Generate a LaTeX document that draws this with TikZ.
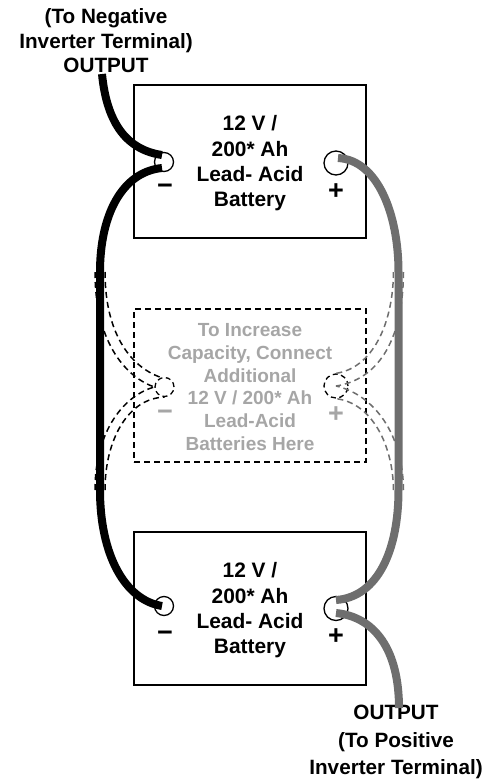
\documentclass[tikz,border=0pt]{standalone}
\usepackage{fontspec}
\setmainfont{Liberation Sans}
\definecolor{cablegray}{HTML}{6E6E6E}
\definecolor{textgray}{HTML}{A6A6A6}
\begin{document}
\begin{tikzpicture}[x=1pt, y=-1pt,
        battery/.style = {draw, line width=1.6pt, minimum width=232pt, minimum height=153pt, inner sep=0pt},
        spare/.style = {battery, dash pattern=on 6pt off 4pt},
        batterytext/.style = {inner sep=0pt, align=center, font=\bfseries\fontsize{20.9}{25.3}\selectfont},
        sparetext/.style = {inner sep=0pt, align=center, text=textgray, font=\bfseries\fontsize{19}{22.8}\selectfont},
        negpost/.style = {circle, draw, line width=1.3pt, minimum size=19pt, inner sep=0pt},
        pospost/.style = {negpost, minimum size=24pt},
        sign/.style = {inner sep=0pt, font=\bfseries\fontsize{27}{27}\selectfont},
        outlabel/.style = {inner sep=0pt, align=center, font=\bfseries\fontsize{20.7}{24.5}\selectfont},
        cable/.style = {line width=8pt},
        tap/.style = {dash pattern=on 6pt off 4pt, line width=1.5pt}]
    \useasboundingbox (0,0) rectangle (491,780);
    % batteries
    \node [battery] (top) at (250,161.5) {};
    \node [spare] (mid) at (250,385.5) {};
    \node [battery] (bot) at (250,608.5) {};
    \node [batterytext] (toptext) at (250,163.5) {12 V /\\200* Ah\\Lead- Acid\\Battery};
    \node [sparetext] (midtext) at (250,387) {To Increase\\Capacity, Connect\\Additional\\12 V / 200* Ah\\Lead-Acid\\Batteries Here};
    \node [batterytext] (bottext) at (250,610.5) {12 V /\\200* Ah\\Lead- Acid\\Battery};
    % posts
    \node [negpost] (topneg) at (164,162) {};
    \node [pospost] (toppos) at (336,163) {};
    \node [negpost, dash pattern=on 5pt off 3.5pt] (midneg) at (164.5,387) {};
    \node [pospost, dash pattern=on 5pt off 3.5pt] (midpos) at (336,386) {};
    \node [negpost] (botneg) at (164,606) {};
    \node [pospost] (botpos) at (336,608.5) {};
    % signs
    \node [sign] (topminus) at (165,189) {−};
    \node [sign] (topplus) at (336,192) {+};
    \node [sign, text=textgray] (midminus) at (165,415) {−};
    \node [sign, text=textgray] (midplus) at (336,415) {+};
    \node [sign] (botminus) at (165,636) {−};
    \node [sign] (botplus) at (336,637) {+};
    % outputs
    \node [outlabel] (outneg) at (106,41) {(To Negative\\Inverter Terminal)\\OUTPUT};
    \node [outlabel, font=\bfseries\fontsize{20.7}{27.5}\selectfont] (outpos) at (396,742) {OUTPUT\\(To Positive\\Inverter Terminal)};
    \coordinate (neghi) at (100,272);
    \coordinate (neglo) at (100,490);
    \coordinate (poshi) at (398.5,272);
    \coordinate (poslo) at (398.5,490);
    \coordinate (outnegend) at (102,74);
    \coordinate (outposend) at (399,708);
    \coordinate (topnegup) at (162,155);
    \coordinate (topneglo) at (162,168);
    \coordinate (botnegin) at (162,606);
    \coordinate (topposin) at (338,158);
    \coordinate (botposup) at (336,600);
    \coordinate (botposlo) at (336,613);
    % dashed taps
    \draw [tap] (neghi) ++(5,0) .. controls (105,330) and (128,366) .. (midneg.110);
    \draw [tap] (neghi) ++(-5,0) .. controls (95,345) and (128,378) .. (midneg.west);
    \draw [tap] (neglo) ++(-5,0) .. controls (95,430) and (125,395) .. (midneg.west);
    \draw [tap] (neglo) ++(5,0) .. controls (105,440) and (128,398) .. (midneg.south);
    \draw [tap, cablegray] (poshi) ++(-5,0) .. controls (393,325) and (372,368) .. (midpos.north);
    \draw [tap, cablegray] (poshi) ++(5,0) .. controls (403,345) and (375,380) .. (midpos.center);
    \draw [tap, cablegray] (poslo) ++(5,0) .. controls (403,435) and (375,395) .. (midpos.center);
    \draw [tap, cablegray] (poslo) ++(-5,0) .. controls (393,445) and (372,403) .. (midpos.south);
    % black cables
    \draw [cable] (outnegend) .. controls (107,125) and (128,150) .. (topnegup);
    \draw [cable] (topneglo) .. controls (122,172) and (100,215) .. (neghi) -- (neglo) .. controls (100,555) and (125,600) .. (botnegin);
    % gray cables
    \draw [cable, cablegray] (topposin) .. controls (378,160) and (398.5,215) .. (poshi) -- (poslo) .. controls (398.5,550) and (378,597) .. (botposup);
    \draw [cable, cablegray] (botposlo) .. controls (375,617) and (399,650) .. (outposend);
\end{tikzpicture}
\end{document}
